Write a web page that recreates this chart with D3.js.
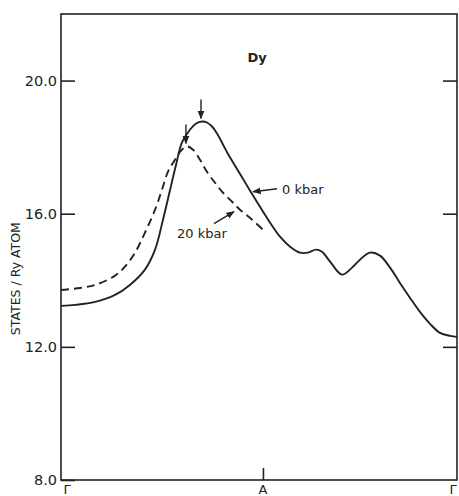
<!DOCTYPE html>
<html>
<head>
<meta charset="utf-8">
<script src="https://cdn.jsdelivr.net/npm/d3@7/dist/d3.min.js"></script>
<style>
  html, body { margin: 0; padding: 0; background: #fff; }
  svg { display: block; }
  text { font-family: "DejaVu Sans", sans-serif; fill: #222; }
</style>
</head>
<body>
<div id="chart"></div>
<script>
// k along the path Γ - A - Γ, and density of states in states/Ry atom
const kZero = [0, 0.071, 0.172, 0.273, 0.348, 0.424, 0.475, 0.515, 0.551, 0.581, 0.611,
    0.652, 0.682, 0.712, 0.737, 0.763, 0.788, 0.813, 0.843, 0.879, 0.919, 0.955, 1.005,
    1.056, 1.106, 1.157, 1.207, 1.247, 1.288, 1.318, 1.359, 1.419, 1.470, 1.510, 1.561,
    1.611, 1.662, 1.712, 1.763, 1.813, 1.864, 1.914, 1.965, 2.0];
const dosZero = [13.23, 13.26, 13.35, 13.56, 13.86, 14.32, 14.92, 15.82, 16.72, 17.47, 18.14,
    18.53, 18.71, 18.77, 18.74, 18.62, 18.41, 18.14, 17.80, 17.44, 17.05, 16.69, 16.21,
    15.73, 15.31, 15.01, 14.83, 14.83, 14.92, 14.86, 14.56, 14.17, 14.38, 14.62, 14.83,
    14.74, 14.38, 13.92, 13.47, 13.05, 12.69, 12.42, 12.33, 12.30];

const kTwenty = [0, 0.096, 0.172, 0.273, 0.323, 0.374, 0.424, 0.475, 0.510, 0.540, 0.576,
    0.601, 0.636, 0.667, 0.702, 0.737, 0.778, 0.818, 0.864, 0.904, 0.965, 1.020];
const dosTwenty = [13.71, 13.77, 13.86, 14.14, 14.41, 14.83, 15.43, 16.12, 16.72, 17.26, 17.62,
    17.86, 18.02, 17.92, 17.62, 17.26, 16.93, 16.63, 16.36, 16.12, 15.82, 15.52];

const yTicks = [8, 12, 16, 20];
const kLabels = ['Γ', 'A', 'Γ'];
const kLabelPos = [0, 1.02, 2];

const width = 459, height = 496;
const margin = { top: 14, right: 2, bottom: 16, left: 61 };
const ink = '#222';

const svg = d3.select('#chart')
    .append('svg')
    .attr('width', width)
    .attr('height', height);

const x = d3.scaleLinear().domain([0, 2]).range([margin.left, width - margin.right]);
const y = d3.scaleLinear().domain([8, 22]).range([height - margin.bottom, margin.top]);

// frame
svg.append('rect')
    .attr('x', x(0)).attr('y', y(22))
    .attr('width', x(2) - x(0)).attr('height', y(8) - y(22))
    .style('fill', 'none').style('stroke', ink).style('stroke-width', 1.6);

// left axis, ticks pointing in
const leftAxis = svg.append('g')
    .attr('transform', `translate(${x(0)},0)`)
    .call(d3.axisRight(y).tickValues(yTicks).tickSize(14).tickFormat(''));
leftAxis.select('.domain').remove();
leftAxis.selectAll('line').style('stroke', ink).style('stroke-width', 1.6);

svg.append('g').selectAll('text')
    .data(yTicks)
    .join('text')
    .attr('x', x(0) - 4)
    .attr('y', d => y(d))
    .attr('dy', '0.36em')
    .style('text-anchor', 'end')
    .style('font-size', '14.5px')
    .text(d => d3.format('.1f')(d));

// right axis, ticks pointing in
const rightAxis = svg.append('g')
    .attr('transform', `translate(${x(2)},0)`)
    .call(d3.axisLeft(y).tickValues(yTicks.filter(d => d > 8)).tickSize(14).tickFormat(''));
rightAxis.select('.domain').remove();
rightAxis.selectAll('line').style('stroke', ink).style('stroke-width', 1.6);

// bottom axis: symmetry point marks
const bottomAxis = svg.append('g')
    .attr('transform', `translate(0,${y(8)})`)
    .call(d3.axisTop(x).tickValues([kLabelPos[1]]).tickSize(12).tickFormat(''));
bottomAxis.select('.domain').remove();
bottomAxis.selectAll('line').style('stroke', ink).style('stroke-width', 1.6);

svg.append('g').selectAll('text')
    .data(kLabels)
    .join('text')
    .attr('x', (d, i) => x(kLabelPos[i]) + (i === 0 ? 6 : i === 2 ? -4 : 0))
    .attr('y', y(8) + 14)
    .style('text-anchor', 'middle')
    .style('font-size', '13px')
    .text(d => d);

// y label
svg.append('text')
    .attr('transform', `translate(20,${y(14.05)}) rotate(-90)`)
    .style('text-anchor', 'middle')
    .style('font-size', '12.5px')
    .text('STATES / Ry ATOM');

// element label
svg.append('text')
    .attr('x', x(0.99))
    .attr('y', y(20.55))
    .style('text-anchor', 'middle')
    .style('font-size', '13px')
    .style('font-weight', 'bold')
    .text('Dy');

// curves
const line = d3.line()
    .x(d => x(d[0]))
    .y(d => y(d[1]))
    .curve(d3.curveCatmullRom.alpha(0.5));

const zeroPts = d3.zip(kZero, dosZero);
const twentyPts = d3.zip(kTwenty, dosTwenty);

svg.append('path')
    .attr('d', line(zeroPts))
    .style('fill', 'none').style('stroke', ink).style('stroke-width', 1.9);

svg.append('path')
    .attr('d', line(twentyPts))
    .style('fill', 'none').style('stroke', ink).style('stroke-width', 1.9)
    .style('stroke-dasharray', '8,5');

// arrow heads
const defs = svg.append('defs');
defs.append('marker')
    .attr('id', 'head')
    .attr('viewBox', '0 0 10 10')
    .attr('refX', 9).attr('refY', 5)
    .attr('markerWidth', 6).attr('markerHeight', 6)
    .attr('orient', 'auto')
    .append('path')
    .attr('d', 'M0,1 L10,5 L0,9 Z')
    .style('fill', ink);

function arrow(x1, y1, x2, y2) {
    svg.append('line')
        .attr('x1', x1).attr('y1', y1)
        .attr('x2', x2).attr('y2', y2)
        .attr('marker-end', 'url(#head)')
        .style('stroke', ink).style('stroke-width', 1.4);
}

// arrows marking the peaks
[zeroPts, twentyPts].forEach(pts => {
    const peak = pts[d3.maxIndex(pts, d => d[1])];
    arrow(x(peak[0]) - 1, y(peak[1]) - 22, x(peak[0]) - 1, y(peak[1]) - 3);
});

// series labels
const zeroAt = zeroPts[21];
svg.append('text')
    .attr('x', x(zeroAt[0]) + 32)
    .attr('y', y(zeroAt[1]) + 3)
    .style('font-size', '13px')
    .text('0  kbar');
arrow(x(zeroAt[0]) + 27, y(zeroAt[1]) - 2, x(zeroAt[0]) + 3, y(zeroAt[1]) + 1);

const twentyAt = twentyPts[19];
svg.append('text')
    .attr('x', x(twentyAt[0]) - 63)
    .attr('y', y(twentyAt[1]) + 28)
    .style('font-size', '13px')
    .text('20 kbar');
arrow(x(twentyAt[0]) - 26, y(twentyAt[1]) + 14, x(twentyAt[0]) - 6, y(twentyAt[1]) + 2);
</script>
</body>
</html>
